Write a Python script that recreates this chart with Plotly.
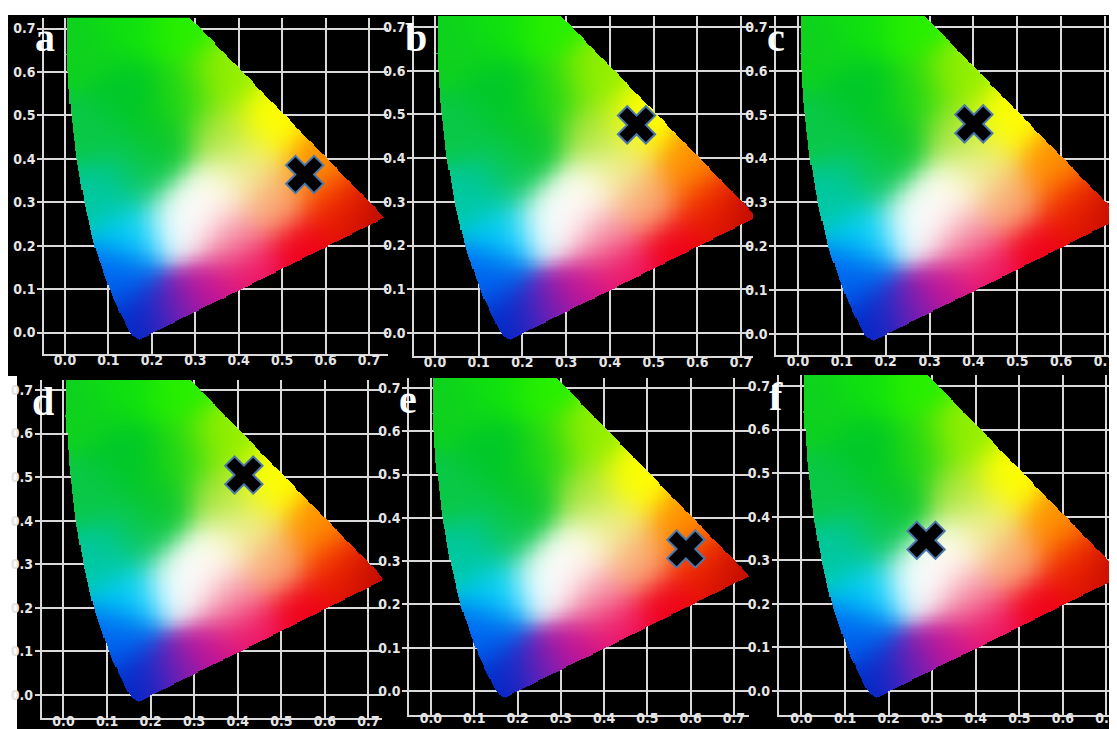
import numpy as np
import plotly.graph_objects as go

# chromaticity of the sample in each panel
panel_labels = ["a", "b", "c", "d", "e", "f"]
marker_x = [0.552, 0.461, 0.401, 0.414, 0.589, 0.286]
marker_y = [0.364, 0.476, 0.479, 0.505, 0.328, 0.346]

tick_values = [0.0, 0.1, 0.2, 0.3, 0.4, 0.5, 0.6, 0.7]
tick_labels = ["0.0", "0.1", "0.2", "0.3", "0.4", "0.5", "0.6", "0.7"]

# outline of the colour gamut (close to CIE 1931 locus)
locus_x = [0.172, 0.160, 0.150, 0.140, 0.126, 0.110, 0.092, 0.069, 0.046,
           0.026, 0.012, 0.005, 0.006, 0.008, 0.255, 0.289, 0.737]
locus_y = [-0.016, -0.008, 0.002, 0.022, 0.050, 0.085, 0.132, 0.200, 0.295,
           0.410, 0.530, 0.640, 0.730, 0.770, 0.770, 0.725, 0.265]

# colour anchors of the gamut fill (x, y and rgb)
anchor_x = [0.05, 0.15, 0.15, 0.26, 0.27, 0.36, 0.47, 0.36, 0.42, 0.58,
            0.48, 0.63, 0.66, 0.72, 0.55, 0.43, 0.38, 0.34, 0.26, 0.18,
            0.13, 0.16, 0.09, 0.18, 0.06, 0.30, 0.26, 0.35, 0.23]
anchor_y = [0.65, 0.55, 0.70, 0.70, 0.55, 0.58, 0.48, 0.45, 0.38, 0.38,
            0.30, 0.30, 0.25, 0.26, 0.19, 0.14, 0.22, 0.09, 0.05, 0.03,
            0.13, 0.23, 0.32, 0.36, 0.46, 0.28, 0.25, 0.33, 0.43]
anchor_r = [15, 0, 15, 40, 30, 150, 255, 170, 240, 255,
            250, 245, 225, 180, 240, 240, 245, 200, 120, 0,
            0, 0, 0, 10, 10, 255, 250, 255, 10]
anchor_g = [210, 200, 225, 240, 215, 240, 255, 230, 240, 150,
            170, 50, 15, 10, 0, 20, 150, 20, 30, 40,
            100, 210, 200, 200, 200, 255, 255, 255, 200]
anchor_b = [30, 40, 15, 0, 20, 0, 0, 60, 140, 0,
            120, 0, 5, 0, 25, 100, 170, 150, 180, 200,
            240, 255, 160, 90, 70, 255, 255, 240, 40]

# pixel boxes of each panel: left, right, top, bottom, and pixels of 0.0 / 0.7
panels = [
    dict(l=36, r=380, t=8, b=348, x0=57, x7=361, y0=326, y7=19),
    dict(l=406, r=745, t=8, b=348, x0=427, x7=733, y0=325, y7=19),
    dict(l=768, r=1112, t=8, b=347, x0=790, x7=1097, y0=326, y7=19),
    dict(l=33, r=375, t=372, b=710, x0=55, x7=361, y0=687, y7=382),
    dict(l=400, r=742, t=370, b=707, x0=422, x7=727, y0=683, y7=380),
    dict(l=770, r=1112, t=367, b=707, x0=793, x7=1099, y0=683, y7=378),
]
W, H = 1117, 729


def gamut_image(step=0.0025):
    xs = np.arange(-0.06, 0.76, step)
    ys = np.arange(-0.06, 0.74, step)
    gx, gy = np.meshgrid(xs, ys)

    # inside test (ray casting) against the outline
    px, py = np.array(locus_x), np.array(locus_y)
    inside = np.zeros(gx.shape, dtype=bool)
    n = len(px)
    for i in range(n):
        xa, ya = px[i], py[i]
        xb, yb = px[(i + 1) % n], py[(i + 1) % n]
        cond = (ya > gy) != (yb > gy)
        xc = xa + (gy - ya) * (xb - xa) / (yb - ya + 1e-12)
        inside ^= cond & (gx < xc)

    # soft blend of the colour anchors
    ax, ay = np.array(anchor_x), np.array(anchor_y)
    cols = np.stack([anchor_r, anchor_g, anchor_b], axis=1).astype(float)
    d2 = (gx[..., None] - ax) ** 2 + (gy[..., None] - ay) ** 2
    w = np.exp(-d2 / (2 * 0.05 ** 2)) + 1e-12
    rgb = (w @ cols) / w.sum(axis=-1, keepdims=True)

    img = np.zeros(gx.shape + (4,), dtype=np.uint8)
    img[..., :3] = np.clip(rgb, 0, 255).astype(np.uint8)
    img[..., 3] = np.where(inside, 255, 0)
    return img, xs[0], ys[0], step


img, ix0, iy0, istep = gamut_image()

fig = go.Figure()
grid_col = "#d9d9d9"
tick_font = dict(family="DejaVu Sans Condensed, DejaVu Sans", size=14,
                 color="#e6e6e6", weight="bold")

for i, p in enumerate(panels):
    n = "" if i == 0 else str(i + 1)
    sx = 0.7 / (p["x7"] - p["x0"])
    sy = 0.7 / (p["y0"] - p["y7"])
    xr = [(p["l"] - p["x0"]) * sx, (p["r"] - p["x0"]) * sx]
    yr = [(p["y0"] - p["b"]) * sy, (p["y0"] - p["t"]) * sy]

    fig.add_trace(go.Image(z=img, colormodel="rgba", x0=ix0, dx=istep, y0=iy0, dy=istep,
                           xaxis="x" + n, yaxis="y" + n, hoverinfo="skip"))
    fig.add_trace(go.Scatter(x=[marker_x[i]], y=[marker_y[i]], mode="markers",
                             xaxis="x" + n, yaxis="y" + n, showlegend=False,
                             marker=dict(symbol="x", size=33, color="black",
                                         line=dict(color="#4a78ad", width=2))))

    fig.layout["xaxis" + n] = dict(
        domain=[p["l"] / W, p["r"] / W], range=xr, anchor="y" + n,
        tickvals=tick_values, ticktext=tick_labels, tickfont=tick_font,
        showgrid=True, gridcolor=grid_col, gridwidth=1.5, zeroline=False,
        showline=True, linecolor=grid_col, linewidth=1.5, ticks="", ticklen=0,
        ticklabelstandoff=-8 if i < 3 else -11, scaleanchor=False, fixedrange=True)
    fig.layout["yaxis" + n] = dict(
        domain=[1 - p["b"] / H, 1 - p["t"] / H], range=yr, anchor="x" + n,
        tickvals=tick_values, ticktext=tick_labels, tickfont=tick_font,
        showgrid=True, gridcolor=grid_col, gridwidth=1.5, zeroline=False,
        showline=True, linecolor=grid_col, linewidth=1.5,
        ticks="outside", ticklen=5, tickcolor=grid_col, tickwidth=1.5,
        ticklabelstandoff=-1, autorange=False, fixedrange=True)

    # panel letter
    fig.add_annotation(text="<b>%s</b>" % panel_labels[i], xref="paper", yref="paper",
                       x=(p["l"] - 10) / W, y=1 - (p["t"] - 2) / H, borderpad=0,
                       xanchor="left", yanchor="top", showarrow=False,
                       font=dict(family="Liberation Serif, Times New Roman, serif",
                                 size=40, color="white"))

# white strips of the composite
for x0, x1, y0, y1 in [(0, W, 0, 7), (0, 9, 368, H), (1113, W, 365, H)]:
    fig.add_shape(type="rect", xref="paper", yref="paper", x0=x0 / W, x1=x1 / W,
                  y0=1 - y1 / H, y1=1 - y0 / H, fillcolor="white", line_width=0,
                  layer="below")

fig.update_layout(width=W, height=H, margin=dict(l=0, r=0, t=0, b=0),
                  paper_bgcolor="black", plot_bgcolor="black", showlegend=False)

fig.write_html("out.html")
